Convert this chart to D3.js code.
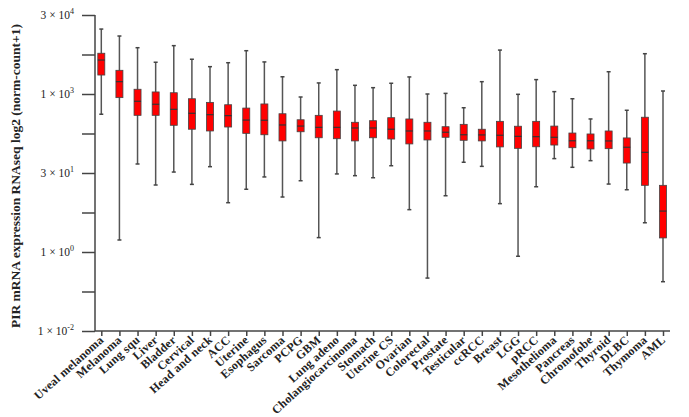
<!DOCTYPE html>
<html>
<head>
<meta charset="utf-8">
<script src="https://cdn.jsdelivr.net/npm/d3@7"></script>
<style>
  body { margin: 0; background: #fff; }
  svg { display: block; }
</style>
</head>
<body>
<svg id="chart" width="689" height="417"></svg>
<script>
const categories = ["Uveal melanoma","Melanoma","Lung squ","Liver","Bladder","Cervical","Head and neck","ACC","Uterine","Esophagus","Sarcoma","PCPG","GBM","Lung adeno","Cholangiocarcinoma","Stomach","Uterine CS","Ovarian","Colorectal","Prostate","Testicular","ccRCC","Breast","LGG","pRCC","Mesothelioma","Pancreas","Chromofobe","Thyroid","DLBC","Thymoma","AML"];

const whiskerHigh = [14.11,13.67,12.93,12.01,13.06,12.20,11.73,11.98,12.74,12.03,11.09,9.81,10.70,11.54,10.55,10.40,10.68,11.08,10.00,10.04,9.13,10.78,12.78,9.98,10.91,10.15,9.70,8.42,11.41,8.97,12.55,10.19];
const q3 =          [12.58,11.50,10.30,10.13,10.08,9.70,9.47,9.32,9.11,9.37,8.75,8.37,8.65,8.92,8.21,8.31,8.50,8.42,8.21,7.93,8.08,7.77,8.27,7.96,8.27,7.97,7.53,7.47,7.66,7.22,8.53,4.22];
const median =      [12.15,10.78,9.54,9.35,9.03,8.78,8.69,8.63,8.35,8.34,8.04,7.97,7.89,7.89,7.85,7.85,7.77,7.66,7.66,7.58,7.42,7.41,7.39,7.32,7.30,7.26,7.04,7.04,7.03,6.63,6.31,2.59];
const q1 =          [11.20,9.77,8.65,8.65,8.02,7.77,7.66,7.91,7.51,7.42,7.03,7.61,7.23,7.17,7.03,7.23,7.15,6.84,7.09,7.26,7.07,7.03,6.65,6.56,6.66,6.77,6.60,6.52,6.54,5.63,4.22,0.89];
const whiskerLow =  [8.72,0.76,5.57,4.24,5.06,4.28,5.40,3.12,3.97,4.75,3.48,4.51,0.91,4.94,4.83,4.70,5.46,2.68,-1.65,3.56,5.68,5.42,3.06,-0.27,4.13,5.91,5.36,5.78,4.30,3.94,1.85,-1.88];

const yTickValues = [15,10,5,0,-5];
const yTickMantissas = ["3","1","3","1","1"];
const yTickExponents = ["4","3","1","0","-2"];
const yMinorTicks = [12.5,7.5,2.5,-2.5];
const yTitle = "PIR mRNA expression RNAseq log2 (norm-count+1)";

const svg = d3.select("#chart");
const axisLeftX = 95, axisBottomY = 331, axisTopY = 15, axisRightX = 670;

const y = d3.scaleLinear().domain([-5, 15]).range([axisBottomY, axisTopY]);
const x = d3.scalePoint().domain(categories).range([101.3, 663]);

const serif = "'Liberation Serif', 'DejaVu Serif', serif";
const axisColor = "#444";

// Y axis
const yAxis = d3.axisLeft(y)
  .tickValues(yTickValues.concat(yMinorTicks))
  .tickSize(13)
  .tickPadding(8)
  .tickFormat(() => "");
const gy = svg.append("g").attr("transform", `translate(${axisLeftX},0)`).call(yAxis);
gy.select(".domain").remove();
gy.selectAll(".tick line").attr("stroke", axisColor).attr("stroke-width", 1.5);
gy.append("line").attr("x1", 0).attr("x2", 0).attr("y1", axisTopY).attr("y2", axisBottomY)
  .attr("stroke", axisColor).attr("stroke-width", 1.5);

// Y tick labels with superscripts
yTickValues.forEach((v, i) => {
  const t = svg.append("text")
    .attr("x", axisLeftX - 21)
    .attr("y", y(v) + 4)
    .attr("text-anchor", "end")
    .attr("font-family", serif)
    .attr("font-size", 11.5)
    .attr("fill", "#222");
  t.append("tspan").text(yTickMantissas[i] + " \u00d7 10");
  t.append("tspan").attr("dy", -5).attr("font-size", 8).text(yTickExponents[i]);
});

// Y title
svg.append("text")
  .attr("transform", `translate(20,${(axisTopY + axisBottomY) / 2 + 3}) rotate(-90)`)
  .attr("text-anchor", "middle")
  .attr("font-family", serif)
  .attr("font-size", 13.5)
  .attr("font-weight", "bold")
  .attr("fill", "#222")
  .text(yTitle);

// X axis
const xAxis = d3.axisBottom(x).tickSize(5).tickFormat(() => "");
const gx = svg.append("g").attr("transform", `translate(0,${axisBottomY})`).call(xAxis);
gx.select(".domain").remove();
gx.selectAll(".tick line").attr("stroke", axisColor).attr("stroke-width", 1.5);
gx.append("line").attr("x1", axisLeftX).attr("x2", axisRightX).attr("y1", 0).attr("y2", 0)
  .attr("stroke", axisColor).attr("stroke-width", 1.5);

// X labels rotated
svg.append("g").selectAll("text").data(categories).join("text")
  .attr("transform", d => `translate(${x(d) + 3},${axisBottomY + 10}) rotate(-42)`)
  .attr("text-anchor", "end")
  .attr("font-family", serif)
  .attr("font-size", 12)
  .attr("font-weight", "bold")
  .attr("letter-spacing", 0.2)
  .attr("fill", "#222")
  .text(d => d);

// Boxes
const boxW = 7, capW = 4;
const boxes = svg.append("g").selectAll("g").data(categories).join("g");
boxes.append("line")
  .attr("x1", d => x(d)).attr("x2", d => x(d))
  .attr("y1", (d, i) => y(whiskerHigh[i])).attr("y2", (d, i) => y(whiskerLow[i]))
  .attr("stroke", "#555").attr("stroke-width", 1.5);
boxes.append("line")
  .attr("x1", d => x(d) - capW / 2).attr("x2", d => x(d) + capW / 2)
  .attr("y1", (d, i) => y(whiskerHigh[i])).attr("y2", (d, i) => y(whiskerHigh[i]))
  .attr("stroke", "#444").attr("stroke-width", 1.5);
boxes.append("line")
  .attr("x1", d => x(d) - capW / 2).attr("x2", d => x(d) + capW / 2)
  .attr("y1", (d, i) => y(whiskerLow[i])).attr("y2", (d, i) => y(whiskerLow[i]))
  .attr("stroke", "#444").attr("stroke-width", 1.5);
boxes.append("rect")
  .attr("x", d => x(d) - boxW / 2)
  .attr("width", boxW)
  .attr("y", (d, i) => y(q3[i]))
  .attr("height", (d, i) => y(q1[i]) - y(q3[i]))
  .attr("fill", "#ff0000")
  .attr("stroke", "#444").attr("stroke-width", 0.8);
boxes.append("line")
  .attr("x1", d => x(d) - boxW / 2).attr("x2", d => x(d) + boxW / 2)
  .attr("y1", (d, i) => y(median[i])).attr("y2", (d, i) => y(median[i]))
  .attr("stroke", "#333").attr("stroke-width", 1.2);
</script>
</body>
</html>
